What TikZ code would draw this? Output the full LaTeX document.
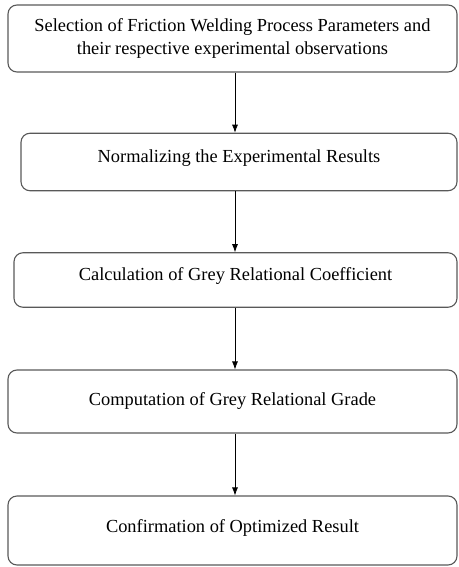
\documentclass[tikz,border=0pt]{standalone}
\usepackage{fontspec}
\setmainfont{Liberation Serif}
\usepackage{tikz}
\usetikzlibrary{arrows.meta}
\usetikzlibrary{calc}

\begin{document}
\begin{tikzpicture}[x=1pt, y=1pt,
    stage/.style={draw=black!65, line width=1.1pt, rounded corners=9pt, inner sep=0pt,
      align=center, font=\fontsize{18.4}{23}\selectfont},
    flow/.style={-{Latex[length=8pt,width=6pt]}, line width=0.8pt}]
    \useasboundingbox (0,0) rectangle (458,-567);
    \coordinate (axis) at (235,0);
    \node[stage, minimum width=449pt, minimum height=67pt] (A) at (232.5,-38.5)
      {Selection of Friction Welding Process Parameters and\\their respective experimental observations};
    \node[stage, minimum width=436pt, minimum height=57.5pt, text height=13pt, text depth=12pt] (B) at (239,-162)
      {Normalizing the Experimental Results};
    \node[stage, minimum width=443pt, minimum height=54.5pt, text height=13pt, text depth=12pt] (C) at (235.5,-280)
      {Calculation of Grey Relational Coefficient};
    \node[stage, minimum width=449pt, minimum height=63pt] (D) at (232.5,-401.5)
      {Computation of Grey Relational Grade};
    \node[stage, minimum width=449pt, minimum height=69pt, text height=13pt, text depth=9pt] (E) at (232.5,-530.5)
      {Confirmation of Optimized Result};
    \path [flow] (A.south -| axis) edge (B.north -| axis);
    \path [flow] (B.south -| axis) edge (C.north -| axis);
    \path [flow] (C.south -| axis) edge (D.north -| axis);
    \path [flow] (D.south -| axis) edge (E.north -| axis);
  \end{tikzpicture}
\end{document}
